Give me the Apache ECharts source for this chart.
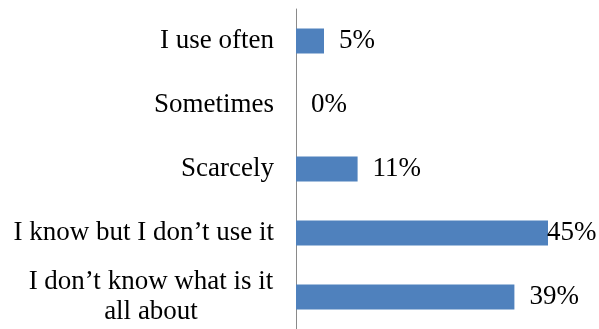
<!DOCTYPE html>
<html>
<head>
<meta charset="utf-8">
<script src="https://cdn.jsdelivr.net/npm/echarts@6/dist/echarts.min.js"></script>
<style>
html,body{margin:0;padding:0;background:#fff;}
#chart{width:599px;height:329px;}
</style>
</head>
<body>
<div id="chart"></div>
<script>
var categories = ["I use often", "Sometimes", "Scarcely", "I know but I don\u2019t use it", "I don\u2019t know what is it\nall about"];
var values = [5, 0, 11, 45, 39];

var FONT = '"Liberation Serif", "Times New Roman", serif';
var chart = echarts.init(document.getElementById('chart'), null, {renderer: 'canvas'});

var data = values.map(function (v, i) {
  var item = {value: v};
  if (v === 45) {
    item.label = {offset: [-16, 0]};
  }
  return item;
});

chart.setOption({
  animation: false,
  backgroundColor: '#ffffff',
  grid: {left: 296, right: 23, top: 9, bottom: 0, containLabel: false},
  xAxis: {
    type: 'value', min: 0, max: 50, show: false,
    splitLine: {show: false}
  },
  yAxis: {
    type: 'category',
    data: categories,
    inverse: true,
    axisTick: {show: false},
    axisLine: {show: true, lineStyle: {color: '#8a8a8a', width: 1}},
    axisLabel: {
      margin: 22,
      color: '#000',
      fontFamily: FONT,
      fontSize: 27,
      lineHeight: 30,
      formatter: function (v) {
        if (v.indexOf('\n') >= 0) {
          return v.split('\n').map(function (l) { return '{c|' + l + '}'; }).join('\n');
        }
        return v;
      },
      rich: {
        c: {width: 246, align: 'center', fontFamily: FONT, fontSize: 27, lineHeight: 30, color: '#000'}
      }
    }
  },
  series: [{
    type: 'bar',
    data: data,
    barWidth: 25,
    itemStyle: {color: '#4f81bd'},
    label: {
      show: true,
      position: 'right',
      distance: 15,
      formatter: '{c}%',
      color: '#000',
      fontFamily: FONT,
      fontSize: 27
    }
  }]
});
</script>
</body>
</html>
